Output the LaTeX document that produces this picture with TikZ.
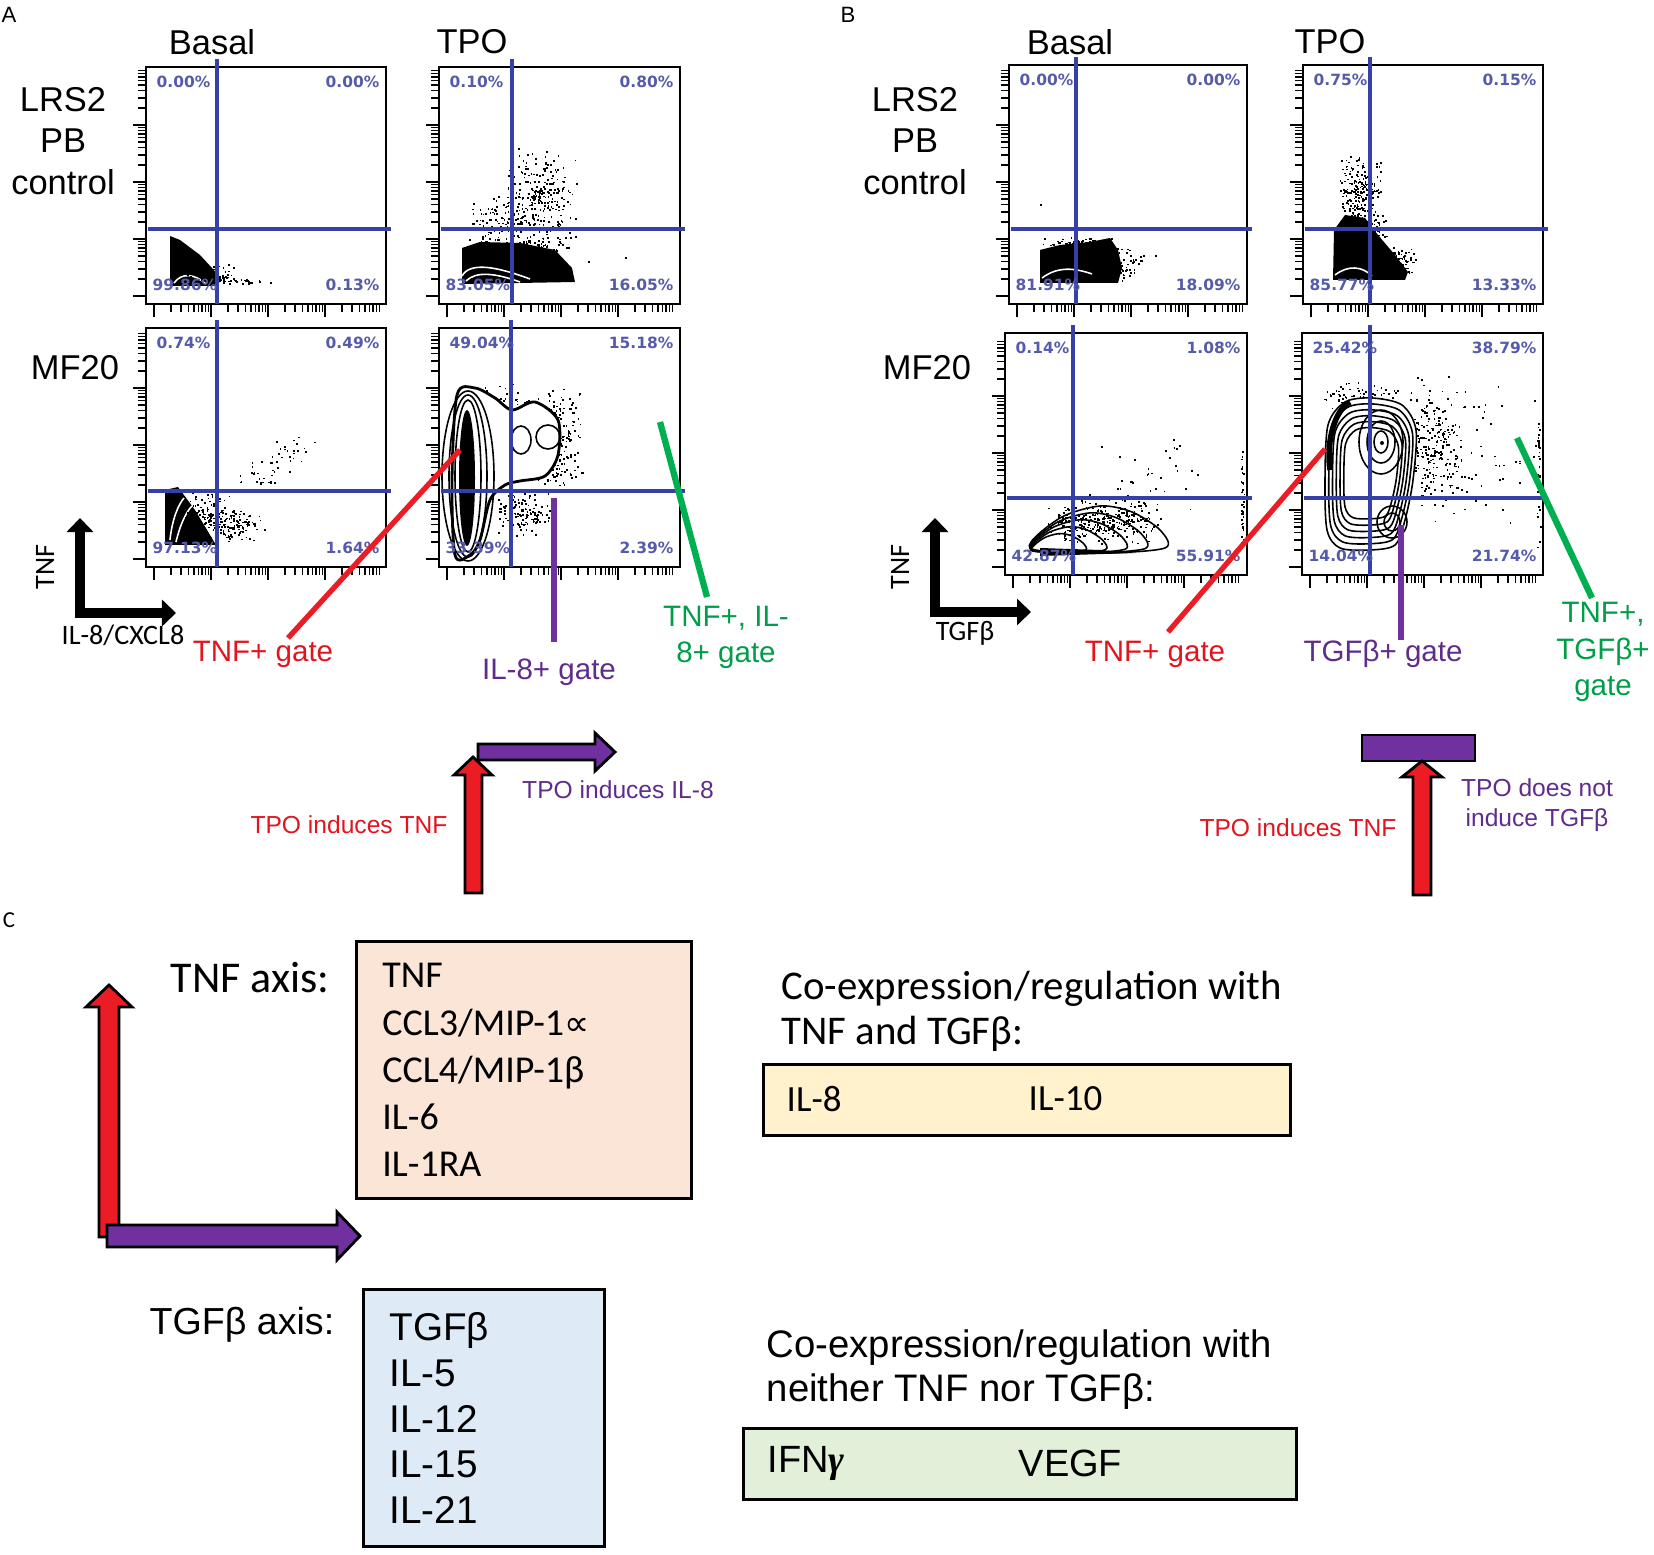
\documentclass[tikz,border=0pt]{standalone}
\usepackage{fontspec}
\setmainfont{Liberation Sans}
\newfontfamily\calib{Carlito}
\newfontfamily\pctfont{DejaVu Sans}
\newfontfamily\symfont{DejaVu Sans}
\newfontfamily\serfont{Liberation Serif}
\usepackage{tikz}
\usetikzlibrary{arrows.meta}

\definecolor{quadblue}{RGB}{55,65,165}
\definecolor{pctblue}{RGB}{85,90,170}
\definecolor{gatered}{RGB}{236,28,36}
\definecolor{gatepurple}{RGB}{112,48,160}
\definecolor{gategreen}{RGB}{0,176,80}
\definecolor{txtred}{RGB}{226,20,30}
\definecolor{txtpurple}{RGB}{96,44,140}
\definecolor{txtgreen}{RGB}{0,158,72}
\definecolor{tnffill}{RGB}{251,229,214}
\definecolor{tgffill}{RGB}{222,235,247}
\definecolor{bothfill}{RGB}{255,242,204}
\definecolor{nonefill}{RGB}{226,240,217}

\newcommand{\cloud}[5]{%
 \foreach \i in {1,...,#5}{%
  \pgfmathsetmacro\cx{#1+#3*(rand+rand)/2}%
  \pgfmathsetmacro\cy{#2+#4*(rand+rand)/2}%
  \fill (\cx,\cy) rectangle ++(1.7,1.7);
 }}

\tikzset{
 frame/.style={line width=0.6pt},
 quad/.style={quadblue, line width=0.9pt},
 tick/.style={line width=0.45pt},
 contour/.style={line width=0.45pt},
 pct/.style={text=pctblue, inner sep=0, font=\pctfont\bfseries\fontsize{4.4}{5}\selectfont},
 panel/.style={inner sep=0, font=\fontsize{6.3}{7}\selectfont},
 head/.style={inner sep=0, font=\fontsize{9.8}{11}\selectfont},
 rowlab/.style={inner sep=0, align=center, font=\fontsize{9.8}{11.8}\selectfont},
 axlab/.style={inner sep=0, font=\calib\fontsize{8}{9}\selectfont},
 axarrow/.style={line width=2.8pt, line join=miter, {Triangle[length=0.14cm,width=0.26cm]}-{Triangle[length=0.14cm,width=0.26cm]}},
 gateline/.style={line width=1.5pt},
 gate/.style={inner sep=0, align=center, font=\fontsize{8.4}{10.2}\selectfont},
 note/.style={inner sep=0, align=center, font=\fontsize{7}{8.5}\selectfont},
 block/.style={draw=black, line width=0.8pt, line join=miter},
 listbox/.style={draw=black, line width=0.8pt, inner xsep=0.26cm, inner ysep=0, align=left, anchor=north west},
 rowbox/.style={draw=black, line width=0.8pt, inner sep=0, anchor=north west}
}

\begin{document}
\begin{tikzpicture}[x=0.01cm, y=-0.01cm]
 \useasboundingbox (0,0) rectangle (1654,1555);
 \pgfmathsetseed{11}

 % panel A, LRS2 basal
 \begin{scope}
 \clip (146,67) rectangle (386,304);
 \fill (170,236) -- (180,240) -- (200,255) -- (212,268) -- (222,280) -- (215,286) -- (170,286) -- cycle;
 \draw[white, contour] (174,283) .. controls (182,272) and (195,274) .. (206,284);
 \cloud{212}{274}{30}{12}{60}
 \cloud{238}{281}{35}{4}{30}
 \end{scope}

 % panel A, LRS2 TPO
 \begin{scope}
 \clip (439,67) rectangle (680,304);
 \fill (462,248) -- (480,242) -- (520,243) -- (555,250) -- (572,268) -- (575,282) -- (462,284) -- cycle;
 \draw[white, contour] (462,276) .. controls (470,262) and (495,266) .. (530,279);
 \draw[white, contour] (466,281) .. controls (476,271) and (495,273) .. (520,282);
 \cloud{540}{200}{40}{55}{250}
 \cloud{500}{222}{35}{30}{120}
 \cloud{525}{245}{50}{10}{100}
 \fill (588,261) rectangle ++(2,2);
 \fill (625,257) rectangle ++(2,2);
 \end{scope}

 % panel A, MF20 basal
 \begin{scope}
 \clip (146,328) rectangle (386,567);
 \fill (165,490) -- (178,487) -- (195,510) -- (210,535) -- (216,545) -- (165,545) -- cycle;
 \draw[white, contour] (170,540) .. controls (172,520) and (178,505) .. (184,498);
 \draw[white, contour] (176,542) .. controls (180,525) and (186,512) .. (192,506);
 \cloud{205}{515}{30}{30}{150}
 \cloud{238}{525}{30}{18}{100}
 \cloud{262}{470}{30}{20}{30}
 \cloud{292}{448}{25}{15}{20}
 \end{scope}

 % panel A, MF20 TPO
 \begin{scope}
 \clip (439,328) rectangle (680,567);
 \cloud{555}{440}{30}{55}{250}
 \cloud{522}{512}{30}{25}{120}
 \cloud{500}{400}{40}{20}{60}
 \fill[white] plot[smooth cycle] coordinates {(457,395) (475,388) (495,398) (512,410) (535,402) (558,420) (558,455) (545,476) (520,481) (505,485) (490,500) (480,540) (470,555) (455,555) (452,480)};
 \draw[contour, line width=0.8pt] plot[smooth cycle] coordinates {(457,395) (475,388) (495,398) (512,410) (535,402) (558,420) (558,455) (545,476) (520,481) (505,485) (490,500) (480,540) (470,555) (455,555) (452,480)};
 \fill (467,478) ellipse [x radius=8, y radius=68];
 \foreach \rx/\ry in {13/76,19/81,26/85}
  \draw[contour] (468,476) ellipse [x radius=\rx, y radius=\ry];
 \draw[contour] (521,440) ellipse [x radius=10, y radius=14];
 \draw[contour] (548,437) ellipse [x radius=12, y radius=12];
 \end{scope}

 % panel B, LRS2 basal
 \begin{scope}
 \clip (1009,65) rectangle (1247,304);
 \fill (1040,250) -- (1060,245) -- (1090,242) -- (1110,238) -- (1118,250) -- (1122,268) -- (1118,283) -- (1040,283) -- cycle;
 \draw[white, contour] (1042,278) .. controls (1058,266) and (1075,268) .. (1092,274);
 \cloud{1115}{262}{30}{20}{100}
 \cloud{1080}{242}{40}{5}{60}
 \fill (1040,204) rectangle ++(2,2);
 \fill (1155,255) rectangle ++(2,2);
 \end{scope}

 % panel B, LRS2 TPO
 \begin{scope}
 \clip (1303,65) rectangle (1543,304);
 \fill (1333,280) -- (1334,230) -- (1345,215) -- (1365,218) -- (1378,235) -- (1395,255) -- (1408,272) -- (1405,280) -- cycle;
 \draw[white, contour] (1335,275) .. controls (1348,265) and (1362,266) .. (1372,276);
 \cloud{1360}{190}{25}{40}{220}
 \cloud{1395}{260}{25}{15}{100}
 \cloud{1370}{230}{20}{20}{100}
 \end{scope}

 % panel B, MF20 basal
 \begin{scope}
 \clip (1005,333) rectangle (1247,575);
 \cloud{1100}{520}{60}{25}{300}
 \cloud{1150}{480}{80}{50}{40}
 \cloud{1242}{500}{2}{60}{40}
 \foreach \s in {0.4,0.55,0.7,0.85,1}
  \draw[contour, scale around={\s:(1032,552)}] plot[smooth cycle] coordinates {(1030,548) (1060,518) (1100,506) (1132,512) (1160,530) (1165,548) (1100,553)};
 \fill (1040,548) -- (1100,550) -- (1135,553) -- (1040,556) -- cycle;
 \end{scope}

 % panel B, MF20 TPO
 \begin{scope}
 \clip (1302,333) rectangle (1543,575);
 \cloud{1430}{440}{40}{70}{250}
 \cloud{1470}{460}{70}{90}{60}
 \cloud{1538}{470}{2}{80}{40}
 \cloud{1360}{395}{40}{15}{80}
 \fill[white] plot[smooth cycle] coordinates {(1328,425) (1345,402) (1372,398) (1402,405) (1416,430) (1413,480) (1405,520) (1395,545) (1370,550) (1340,548) (1327,530) (1325,480)};
 \foreach \s in {1,0.92,0.84,0.76,0.68,0.6}
  \draw[contour, scale around={\s:(1372,472)}] plot[smooth cycle] coordinates {(1328,425) (1345,402) (1372,398) (1402,405) (1416,430) (1413,480) (1405,520) (1395,545) (1370,550) (1340,548) (1327,530) (1325,480)};
 \draw[line width=1.6pt] (1330,470) .. controls (1326,440) and (1335,410) .. (1350,402);
 \foreach \rx/\ry in {22/32,14/21,7/11}
  \draw[contour] (1381,442) ellipse [x radius=\rx, y radius=\ry];
 \fill (1382,443) circle [radius=2];
 \foreach \rx/\ry in {15/16,8/9}
  \draw[contour] (1392,522) ellipse [x radius=\rx, y radius=\ry];
 \end{scope}

 % frames, ticks, quadrants, percentages
 \foreach \nm/\xl/\yt/\xr/\yb/\qx/\qy/\pa/\pb/\pc/\pd in {
  a1/146/67/386/304/217/229/0.00/0.00/99.86/0.13,
  a2/439/67/680/304/512/229/0.10/0.80/83.05/16.05,
  a3/146/328/386/567/217/491/0.74/0.49/97.13/1.64,
  a4/439/328/680/567/511/491/49.04/15.18/33.39/2.39,
  b1/1009/65/1247/304/1076/229/0.00/0.00/81.91/18.09,
  b2/1303/65/1543/304/1370/229/0.75/0.15/85.77/13.33,
  b3/1005/333/1247/575/1073/498/0.14/1.08/42.87/55.91,
  b4/1302/333/1543/575/1370/498/25.42/38.79/14.04/21.74}{
  \foreach \k in {0,...,3}{
   \foreach \m in {1,...,9}{
    \pgfmathsetmacro\off{57*(\k+log10(\m))}
    \pgfmathsetmacro\tk{ifthenelse(\m==1,13,8)}
    \draw[tick] (\xl-\tk,\yb-8-\off) -- (\xl,\yb-8-\off);
    \draw[tick] (\xl+8+\off,\yb) -- (\xl+8+\off,\yb+\tk);
   }}
  \draw[frame] (\xl,\yt) rectangle (\xr,\yb);
  \draw[quad] (\qx,\yt-8) -- (\qx,\yb);
  \draw[quad] (\xl+2,\qy) -- (\xr+5,\qy);
  \node[pct, anchor=west] (\nm tl) at (\xl+10,\yt+15) {\pa\%};
  \node[pct, anchor=east] (\nm tr) at (\xr-6,\yt+15) {\pb\%};
  \node[pct, anchor=west] (\nm bl) at (\xl+6,\yb-19) {\pc\%};
  \node[pct, anchor=east] (\nm br) at (\xr-6,\yb-19) {\pd\%};
 }

 % headings
 \node[panel] (pA) at (9,15) {A};
 \node[panel] (pB) at (848,15) {B};
 \node[panel, font=\calib\fontsize{6.5}{7}\selectfont] (pC) at (9,920) {C};
 \node[head] (hA1) at (212,42) {Basal};
 \node[head] (hA2) at (472,42) {TPO};
 \node[head] (hB1) at (1070,42) {Basal};
 \node[head] (hB2) at (1330,42) {TPO};
 \node[rowlab] (rA1) at (63,141) {LRS2\\PB\\control};
 \node[rowlab] (rA2) at (75,368) {MF20};
 \node[rowlab] (rB1) at (915,141) {LRS2\\PB\\control};
 \node[rowlab] (rB2) at (927,368) {MF20};

 % axis keys
 \coordinate (kA1) at (80,518);
 \coordinate (kA2) at (80,613);
 \coordinate (kA3) at (176,613);
 \draw[axarrow] (kA1) -- (kA2) -- (kA3);
 \node[axlab, rotate=90] (tA) at (45,567) {TNF};
 \node[axlab] (xA) at (123,635) {IL-8/CXCL8};
 \coordinate (kB1) at (935,518);
 \coordinate (kB2) at (935,612);
 \coordinate (kB3) at (1031,612);
 \draw[axarrow] (kB1) -- (kB2) -- (kB3);
 \node[axlab, rotate=90] (tB) at (900,567) {TNF};
 \node[axlab] (xB) at (965,633) {TGFβ};

 % gates, panel A
 \coordinate (ra1) at (460,450);
 \coordinate (ra2) at (288,638);
 \draw[gateline, gatered] (ra1) -- (ra2);
 \node[gate, text=txtred] (gA1) at (263,654) {TNF+ gate};
 \coordinate (pa1) at (554,498);
 \coordinate (pa2) at (554,642);
 \draw[gateline, gatepurple, line width=1.8pt] (pa1) -- (pa2);
 \node[gate, text=txtpurple] (gA2) at (549,672) {IL-8+ gate};
 \coordinate (ga1) at (660,422);
 \coordinate (ga2) at (707,597);
 \draw[gateline, gategreen, line width=1.8pt] (ga1) -- (ga2);
 \node[gate, text=txtgreen] (gA3) at (726,637) {TNF+, IL-\\8+ gate};

 % gates, panel B
 \coordinate (rb1) at (1325,449);
 \coordinate (rb2) at (1168,632);
 \draw[gateline, gatered] (rb1) -- (rb2);
 \node[gate, text=txtred] (gB1) at (1155,654) {TNF+ gate};
 \coordinate (pb1) at (1401,525);
 \coordinate (pb2) at (1401,640);
 \draw[gateline, gatepurple, line width=1.8pt] (pb1) -- (pb2);
 \node[gate, text=txtpurple] (gB2) at (1383,654) {TGFβ+ gate};
 \coordinate (gb1) at (1517,438);
 \coordinate (gb2) at (1592,598);
 \draw[gateline, gategreen, line width=1.8pt] (gb1) -- (gb2);
 \node[gate, text=txtgreen, font=\fontsize{8.4}{10.4}\selectfont] (gB3) at (1603,652) {TNF+,\\TGFβ+\\gate};

 % induction arrows, panel A
 \draw[block, fill=gatepurple] (478,744) -- (595,744) -- (595,733) -- (615,752) -- (595,771) -- (595,760) -- (478,760) -- cycle;
 \draw[block, fill=gatered] (465,893) -- (465,775) -- (454,775) -- (473,757) -- (492,775) -- (482,775) -- (482,893) -- cycle;
 \node[note, text=txtred] (nA1) at (349,825) {TPO induces TNF};
 \node[note, text=txtpurple] (nA2) at (618,790) {TPO induces IL-8};

 % induction arrows, panel B
 \draw[block, fill=gatepurple] (1362,735) rectangle (1475,761);
 \draw[block, fill=gatered] (1413,895) -- (1413,777) -- (1402,777) -- (1422,761) -- (1442,777) -- (1431,777) -- (1431,895) -- cycle;
 \node[note, text=txtred] (nB1) at (1298,828) {TPO induces TNF};
 \node[note, text=txtpurple] (nB2) at (1537,805) {TPO does not\\induce TGFβ};

 % panel C
 \draw[block, fill=gatered] (99,1237) -- (99,1007) -- (86,1007) -- (109,985) -- (132,1007) -- (119,1007) -- (119,1237) -- cycle;
 \draw[block, fill=gatepurple] (107,1225) -- (337,1225) -- (337,1212) -- (360,1236) -- (337,1260) -- (337,1247) -- (107,1247) -- cycle;

 \node[inner sep=0, anchor=east, font=\calib\fontsize{12.5}{14}\selectfont] (tnfax) at (330,978) {TNF axis:};
 \node[listbox, fill=tnffill, minimum width=3.35cm, minimum height=2.57cm, text width=2.83cm, font=\calib\fontsize{10.8}{13.4}\selectfont] (tnflist) at (355,940)
  {TNF\\CCL3/MIP-1{\symfont\fontsize{10}{13.4}\selectfont ∝}\\CCL4/MIP-1β\\IL-6\\IL-1RA};

 \node[inner sep=0, anchor=east, font=\fontsize{10.7}{13}\selectfont] (tgfax) at (335,1325) {TGFβ axis:};
 \node[listbox, fill=tgffill, minimum width=2.41cm, minimum height=2.57cm, text width=1.89cm, font=\fontsize{11}{13}\selectfont] (tgflist) at (362,1288)
  {TGFβ\\IL-5\\IL-12\\IL-15\\IL-21};

 \node[inner sep=0, anchor=west, align=left, font=\calib\fontsize{11.6}{12.8}\selectfont] (bothhd) at (781,1011) {Co-expression/regulation with\\TNF and TGFβ:};
 \node[rowbox, fill=bothfill, minimum width=5.27cm, minimum height=0.71cm] (bothrow) at (762,1063) {};
 \node[inner sep=0, anchor=west, font=\calib\fontsize{10.5}{12}\selectfont] (il8) at (786,1099) {IL-8};
 \node[inner sep=0, anchor=west, font=\calib\fontsize{10.5}{12}\selectfont] (il10) at (1028,1099) {IL-10};

 \node[inner sep=0, anchor=west, align=left, font=\fontsize{10.9}{12.5}\selectfont] (nonehd) at (766,1370) {Co-expression/regulation with\\neither TNF nor TGFβ:};
 \node[rowbox, fill=nonefill, minimum width=5.53cm, minimum height=0.71cm] (nonerow) at (742,1427) {};
 \node[inner sep=0, anchor=west, font=\fontsize{10.8}{12}\selectfont] (ifng) at (767,1463) {IFN{\serfont\bfseries\itshape γ}};
 \node[inner sep=0, anchor=west, font=\fontsize{10.8}{12}\selectfont] (vegf) at (1018,1463) {VEGF};
\end{tikzpicture}
\end{document}
